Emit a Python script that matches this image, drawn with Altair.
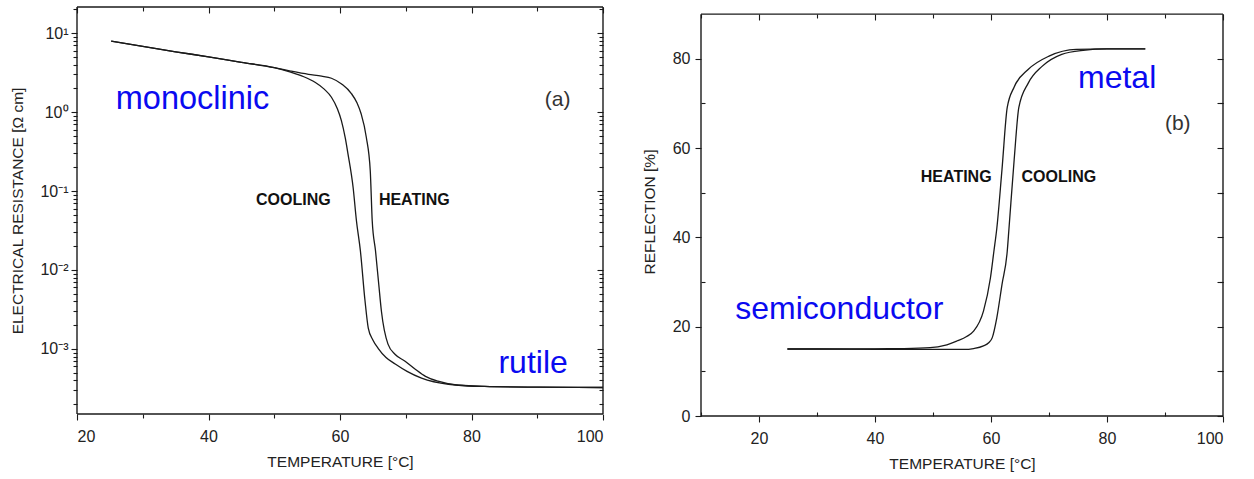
import altair as alt
import pandas as pd

# ---- (a) electrical resistance vs temperature (log scale) ----
res_cool_t = [25.2, 30, 35, 40, 45, 50, 52.5, 54.5, 56.2, 57.6, 58.7, 59.6, 60.2, 60.8,
              61.2, 62.0, 62.5, 63.1, 63.8, 64.3, 65.0, 65.8, 67.0, 68.4, 70.2, 72.4,
              76.5, 82, 90, 100]
res_cool_r = [7.9, 6.8, 5.8, 5.0, 4.26, 3.65, 3.2, 2.8, 2.38, 1.95, 1.54, 1.1, 0.785, 0.47,
              0.30, 0.110, 0.042, 0.0175, 0.0041, 0.00184, 0.0013, 0.00102, 0.00078,
              0.000645, 0.00052, 0.000427, 0.000357, 0.000335, 0.000328, 0.000325]
res_heat_t = [25.2, 30, 35, 40, 45, 50, 52.5, 55.2, 57.2, 58.7, 60.3, 61.7, 62.6, 63.2,
              64.0, 64.6, 64.9, 65.4, 65.9, 66.3, 67.3, 68.4, 69.9, 71.5, 73.0, 74.9,
              78.0, 82, 90, 100]
res_heat_r = [7.9, 6.8, 5.8, 5.0, 4.26, 3.65, 3.3, 3.0, 2.85, 2.68, 2.25, 1.73, 1.3, 0.96,
              0.48, 0.182, 0.042, 0.0175, 0.0065, 0.0030, 0.00115, 0.00085, 0.0007,
              0.00055, 0.00045, 0.00039, 0.000347, 0.000335, 0.000328, 0.000325]

# ---- (b) optical reflection vs temperature ----
ref_heat_t = [24.9, 30, 35, 40, 45, 49.5, 52, 54.1, 55.8, 57, 58.7, 59.9, 60.5, 61.0,
              61.9, 62.8, 64.0, 66.4, 70.0, 74.7, 80, 86.6]
ref_heat_v = [15, 15, 15, 15.05, 15.1, 15.3, 15.8, 16.8, 17.8, 19, 23.5, 30.9, 36.9, 42,
              55.3, 69.1, 73.7, 77.6, 80.6, 82.1, 82.2, 82.2]
ref_cool_t = [24.9, 30, 40, 50, 55.3, 57, 58.7, 59.6, 60.2, 61.0, 61.9, 62.8, 63.1, 64.0,
              64.8, 66.4, 68.8, 72.2, 75.9, 80, 86.6]
ref_cool_v = [15, 15, 14.95, 14.9, 14.9, 15.1, 15.7, 16.4, 17.5, 22, 29.5, 36.9, 42, 57.5,
              69.1, 74.5, 78.3, 81, 81.9, 82.2, 82.2]

# axis ranges and ticks
res_t_range = [20, 100]
res_range = [1.5e-4, 21.4]
ref_t_range = [10, 100]
ref_range = [0, 90]
res_major = [1e-3, 1e-2, 1e-1, 1, 10]
res_minor = [m * 10.0 ** d for d in range(-4, 2) for m in range(2, 10)
             if res_range[0] <= m * 10.0 ** d <= res_range[1]]
temp_major_a = [20, 40, 60, 80, 100]
temp_minor_a = [30, 50, 70, 90]
temp_major_b = [20, 40, 60, 80, 100]
temp_minor_b = [10, 30, 50, 70, 90]
refl_major = [0, 20, 40, 60, 80]
refl_minor = [10, 30, 50, 70]

# annotations: text, x, y, size, weight, colour, alignment
notes_a = [
    ("monoclinic", 25.9, 1.45, 32.5, "normal", "#0a0af0", "left"),
    ("rutile", 84.1, 6.6e-4, 32, "normal", "#0a0af0", "left"),
    ("(a)", 93.1, 1.41, 21, "normal", "#333333", "center"),
    ("COOLING", 52.9, 0.076, 16, "bold", "#111111", "center"),
    ("HEATING", 71.3, 0.076, 16, "bold", "#111111", "center"),
]
notes_b = [
    ("metal", 75.0, 75.6, 32, "normal", "#0a0af0", "left"),
    ("semiconductor", 15.9, 23.9, 32, "normal", "#0a0af0", "left"),
    ("(b)", 92.2, 65.5, 21, "normal", "#333333", "center"),
    ("HEATING", 54.0, 53.5, 16, "bold", "#111111", "center"),
    ("COOLING", 71.7, 53.5, 16, "bold", "#111111", "center"),
]

FONT = "Liberation Sans"
LINE = "#1a1a1a"

res_cool = pd.DataFrame({"T": res_cool_t, "v": res_cool_r})
res_heat = pd.DataFrame({"T": res_heat_t, "v": res_heat_r})
ref_cool = pd.DataFrame({"T": ref_cool_t, "v": ref_cool_v})
ref_heat = pd.DataFrame({"T": ref_heat_t, "v": ref_heat_v})


def ax(values, size, labels=False, offset=0, **kw):
    if "title" not in kw:
        kw["title"] = None
    return alt.Axis(values=values, tickSize=size, labels=labels, offset=offset,
                    domain=False, grid=False, tickColor=LINE, tickWidth=1.1, **kw)


def lines(df, xscale, yscale, xaxis, yaxis, opacity=1.0):
    return alt.Chart(df).mark_line(color=LINE, strokeWidth=1.3, opacity=opacity,
                                   interpolate="monotone").encode(
        x=alt.X("T:Q", scale=xscale, axis=xaxis),
        y=alt.Y("v:Q", scale=yscale, axis=yaxis),
    )


def frame(xr, yr, xscale, yscale):
    # four border lines of the data box
    df = pd.DataFrame({
        "x": [xr[0], xr[0], xr[0], xr[1]],
        "x2": [xr[1], xr[0], xr[1], xr[1]],
        "y": [yr[0], yr[0], yr[1], yr[0]],
        "y2": [yr[0], yr[1], yr[1], yr[1]],
    })
    return alt.Chart(df).mark_rule(color=LINE, strokeWidth=1.4).encode(
        x=alt.X("x:Q", scale=xscale, axis=None), x2="x2:Q",
        y=alt.Y("y:Q", scale=yscale, axis=None), y2="y2:Q",
    )


def notes(rows, xscale, yscale):
    out = []
    for text, x, y, size, weight, color, align in rows:
        df = pd.DataFrame({"T": [x], "v": [y], "label": [text]})
        out.append(alt.Chart(df).mark_text(
            font=FONT, fontSize=size, fontWeight=weight, color=color,
            align=align, baseline="middle").encode(
            x=alt.X("T:Q", scale=xscale, axis=None),
            y=alt.Y("v:Q", scale=yscale, axis=None),
            text="label:N"))
    return out


label_style = dict(labelFont=FONT, labelFontSize=16, labelColor="#222222")
title_style = dict(titleFont=FONT, titleFontSize=15.5, titleFontWeight="normal",
                   titleColor="#222222")

# ---------- panel (a) ----------
xs_a = alt.Scale(domain=res_t_range, nice=False, zero=False)
ys_a = alt.Scale(type="log", domain=res_range, nice=False)
sup = ("datum.value > 5 ? '10¹' : datum.value > 0.5 ? '10⁰' : "
       "datum.value > 0.05 ? '10⁻¹' : datum.value > 0.005 ? '10⁻²' : '10⁻³'")

panel_a = alt.layer(
    frame(res_t_range, res_range, xs_a, ys_a),
    lines(res_cool, xs_a, ys_a,
          ax(temp_major_a, 6, labels=True, labelPadding=8, title="TEMPERATURE [°C]",
             titlePadding=10, orient="bottom", **label_style, **title_style),
          ax(res_major, 6, labels=True, labelPadding=3, labelExpr=sup,
             title="ELECTRICAL RESISTANCE [Ω cm]", titlePadding=14, orient="left",
             **label_style, **title_style)),
    lines(res_heat, xs_a, ys_a,
          ax(temp_minor_a, 4, orient="bottom"),
          ax(res_minor, 4, orient="left")),
    lines(res_cool, xs_a, ys_a,
          ax(temp_major_a, 6, offset=-6, orient="top"),
          ax(res_major, 6, offset=-6, orient="right"), opacity=0),
    lines(res_cool, xs_a, ys_a,
          ax(temp_minor_a, 4, offset=-4, orient="top"),
          ax(res_minor, 4, offset=-4, orient="right"), opacity=0),
    *notes(notes_a, xs_a, ys_a),
).resolve_axis(x="independent", y="independent").properties(width=526, height=407)

# ---------- panel (b) ----------
# the box of panel (b) sits a little lower than panel (a): extra headroom above 90 %
head_b = 1.6
xs_b = alt.Scale(domain=ref_t_range, nice=False, zero=False)
ys_b = alt.Scale(domain=[ref_range[0], ref_range[1] + head_b], nice=False, zero=False)
top_off = 7

panel_b = alt.layer(
    frame(ref_t_range, ref_range, xs_b, ys_b),
    lines(ref_heat, xs_b, ys_b,
          ax(temp_major_b, 6, labels=True, labelPadding=8, title="TEMPERATURE [°C]",
             titlePadding=10, orient="bottom", **label_style, **title_style),
          ax(refl_major, 6, labels=True, labelPadding=5, title="REFLECTION [%]",
             titlePadding=15, orient="left", **label_style, **title_style)),
    lines(ref_cool, xs_b, ys_b,
          ax(temp_minor_b, 4, offset=-4, orient="bottom"),
          ax(refl_minor, 4, offset=-4, orient="left")),
    lines(ref_heat, xs_b, ys_b,
          ax(temp_major_b, 6, offset=-(6 + top_off), orient="top"),
          ax(refl_major + refl_minor, 6, offset=-6, orient="right"), opacity=0),
    lines(ref_heat, xs_b, ys_b,
          ax(temp_minor_b, 4, offset=-(4 + top_off), orient="top"),
          ax(refl_minor, 4, offset=-4, orient="right"), opacity=0),
    *notes(notes_b, xs_b, ys_b),
).resolve_axis(x="independent", y="independent").properties(width=522, height=409)

chart = alt.hconcat(panel_a, panel_b, spacing=36).configure(
    padding={"left": 10, "top": 6, "right": 5, "bottom": 4},
    background="white",
).configure_view(strokeOpacity=0)

chart.save("out.html", embed_options={"renderer": "svg", "actions": False})
